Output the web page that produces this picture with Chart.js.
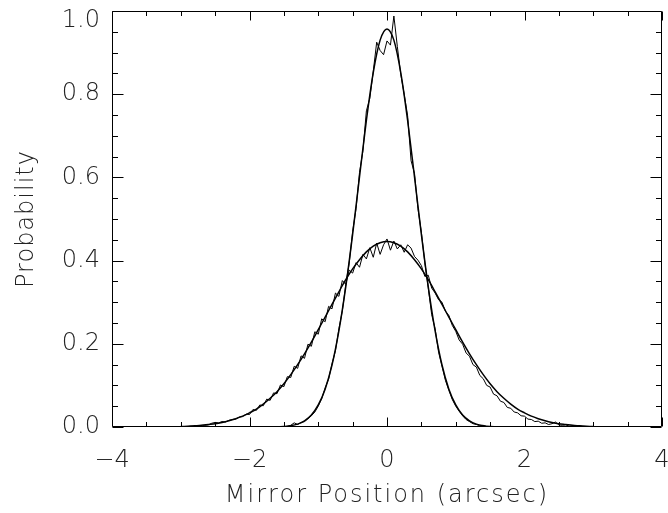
<!DOCTYPE html>
<html>
<head>
<meta charset="utf-8">
<script src="https://cdn.jsdelivr.net/npm/chart.js@4"></script>
<style>
  html, body { margin: 0; padding: 0; background: #fff; }
</style>
</head>
<body>
<canvas id="profileChart" width="668" height="513"></canvas>
<script>
// Histogram bins (arcsec): first bin centre and bin width
const binStart = -3.0;
const binWidth = 0.05;

// Measured distribution, wide profile (-3.00 .. 3.00)
const wideHist = [
    0.000, 0.000, 0.001, 0.002, 0.001, 0.003, 0.002, 0.004, 0.005, 0.009,
    0.011, 0.010, 0.013, 0.012, 0.016, 0.018, 0.019, 0.024, 0.025, 0.031,
    0.030, 0.042, 0.040, 0.053, 0.051, 0.067, 0.064, 0.082, 0.080, 0.101,
    0.097, 0.121, 0.119, 0.146, 0.141, 0.171, 0.165, 0.199, 0.194, 0.229,
    0.223, 0.260, 0.253, 0.290, 0.284, 0.322, 0.314, 0.352, 0.343, 0.377,
    0.370, 0.395, 0.384, 0.415, 0.404, 0.431, 0.408, 0.442, 0.415, 0.438,
    0.452, 0.425, 0.447, 0.428, 0.438, 0.420, 0.438, 0.430, 0.410, 0.401,
    0.388, 0.362, 0.365, 0.334, 0.322, 0.306, 0.300, 0.278, 0.268, 0.244,
    0.230, 0.209, 0.199, 0.178, 0.170, 0.150, 0.144, 0.124, 0.116, 0.100,
    0.096, 0.079, 0.075, 0.062, 0.059, 0.047, 0.045, 0.036, 0.034, 0.027,
    0.026, 0.019, 0.018, 0.013, 0.014, 0.009, 0.010, 0.006, 0.008, 0.012,
    0.005, 0.004, 0.005, 0.002, 0.003, 0.002, 0.002, 0.001, 0.001, 0.000,
    0.000
];

// Measured distribution, narrow profile (-3.00 .. 3.00)
const narrowHist = [
    0, 0, 0, 0, 0, 0, 0, 0, 0, 0,
    0, 0, 0, 0, 0, 0, 0, 0, 0, 0,
    0, 0, 0, 0, 0, 0, 0, 0, 0, 0.001,
    0.000, 0.002, 0.004, 0.010, 0.006, 0.011, 0.013, 0.020, 0.027, 0.036,
    0.050, 0.068, 0.094, 0.115, 0.152, 0.183, 0.236, 0.279, 0.342, 0.394,
    0.470, 0.525, 0.612, 0.664, 0.760, 0.790, 0.855, 0.925, 0.905, 0.895,
    0.928, 0.918, 0.988, 0.915, 0.848, 0.800, 0.748, 0.640, 0.610, 0.525,
    0.468, 0.395, 0.335, 0.270, 0.236, 0.180, 0.146, 0.112, 0.088, 0.066,
    0.050, 0.038, 0.027, 0.018, 0.013, 0.008, 0.006, 0.003, 0.004, 0.001,
    0.001, 0, 0, 0, 0, 0, 0, 0, 0, 0,
    0, 0, 0, 0, 0, 0, 0, 0, 0, 0,
    0, 0, 0, 0, 0, 0, 0, 0, 0, 0,
    0
];

// Gaussian fits, sampled every 0.1 arcsec from -3.0 to 3.0
const fitStart = -3.0;
const fitStep = 0.1;
const wideFit = [
    0.001, 0.002, 0.003, 0.004, 0.006, 0.008, 0.011, 0.015, 0.020, 0.026,
    0.034, 0.043, 0.055, 0.069, 0.085, 0.104, 0.126, 0.150, 0.176, 0.204,
    0.234, 0.264, 0.295, 0.325, 0.354, 0.380, 0.402, 0.421, 0.435, 0.443,
    0.446,
    0.443, 0.435, 0.421, 0.402, 0.380, 0.354, 0.325, 0.295, 0.264, 0.234,
    0.204, 0.176, 0.150, 0.126, 0.104, 0.085, 0.069, 0.055, 0.043, 0.034,
    0.026, 0.020, 0.015, 0.011, 0.008, 0.006, 0.004, 0.003, 0.002, 0.001
];
const narrowFit = [
    0, 0, 0, 0, 0, 0, 0, 0, 0, 0,
    0, 0, 0, 0, 0, 0.001, 0.003, 0.007, 0.015, 0.029,
    0.053, 0.091, 0.149, 0.231, 0.337, 0.463, 0.601, 0.737, 0.852, 0.930,
    0.957,
    0.930, 0.852, 0.737, 0.601, 0.463, 0.337, 0.231, 0.149, 0.091, 0.053,
    0.029, 0.015, 0.007, 0.003, 0.001, 0, 0, 0, 0, 0,
    0, 0, 0, 0, 0, 0, 0, 0, 0, 0
];

const xTicks = [-4, -2, 0, 2, 4];
const yTicks = [0.0, 0.2, 0.4, 0.6, 0.8, 1.0];
const xTitle = 'Mirror Position (arcsec)';
const yTitle = 'Probability';

const textColor = '#222';
const fontFamily = "'DejaVu Sans', sans-serif";
const fontWeight = '200';

function toPoints(start, step, values) {
    return values.map((v, i) => ({ x: start + i * step, y: v }));
}

// IDL-style box with inward major/minor ticks on all four sides
const frameTicks = {
    id: 'frameTicks',
    afterDraw(chart) {
        const { ctx, chartArea: a, scales: { x, y } } = chart;
        ctx.save();
        ctx.strokeStyle = '#000';
        ctx.lineWidth = 1;
        ctx.beginPath();
        const L = Math.round(a.left) + 0.5, R = Math.round(a.right) - 0.5;
        const T = Math.round(a.top) + 0.5, B = Math.round(a.bottom) - 0.5;
        ctx.rect(L, T, R - L, B - T);
        for (let i = 0; i <= 16; i++) {
            const px = Math.round(x.getPixelForValue(x.min + i * 0.5)) + 0.5;
            const len = i % 4 === 0 ? 9 : 4.5;
            ctx.moveTo(px, B); ctx.lineTo(px, B - len);
            ctx.moveTo(px, T); ctx.lineTo(px, T + len);
        }
        for (let i = 0; i <= 20; i++) {
            const py = Math.round(y.getPixelForValue(y.min + i * 0.05)) + 0.5;
            const len = i % 4 === 0 ? 11 : 5.5;
            ctx.moveTo(L, py); ctx.lineTo(L + len, py);
            ctx.moveTo(R, py); ctx.lineTo(R - len, py);
        }
        ctx.stroke();
        ctx.restore();
    }
};

// axis titles, spaced out like the IDL vector font
const axisTitles = {
    id: 'axisTitles',
    afterDraw(chart) {
        const { ctx, chartArea: a } = chart;
        ctx.save();
        ctx.fillStyle = textColor;
        ctx.font = fontWeight + ' 24px ' + fontFamily;
        ctx.textAlign = 'center';
        ctx.textBaseline = 'alphabetic';
        ctx.letterSpacing = '2px';
        ctx.fillText(xTitle, (a.left + a.right) / 2, 502);
        ctx.letterSpacing = '1px';
        ctx.translate(33, 219);
        ctx.rotate(-Math.PI / 2);
        ctx.fillText(yTitle, 0, 0);
        ctx.restore();
    }
};

const fitStyle = { borderColor: '#000', borderWidth: 1.5, pointRadius: 0, cubicInterpolationMode: 'monotone' };
const histStyle = { borderColor: '#000', borderWidth: 1, pointRadius: 0, tension: 0 };

new Chart(document.getElementById('profileChart'), {
    type: 'line',
    data: {
        datasets: [
            Object.assign({ label: 'Wide fit', data: toPoints(fitStart, fitStep, wideFit) }, fitStyle),
            Object.assign({ label: 'Narrow fit', data: toPoints(fitStart, fitStep, narrowFit) }, fitStyle),
            Object.assign({ label: 'Wide', data: toPoints(binStart, binWidth, wideHist) }, histStyle),
            Object.assign({ label: 'Narrow', data: toPoints(binStart, binWidth, narrowHist) }, histStyle)
        ]
    },
    options: {
        responsive: false,
        devicePixelRatio: 1,
        animation: false,
        layout: { padding: { top: 11, right: 6, left: 0, bottom: 0 } },
        plugins: {
            legend: { display: false },
            tooltip: { enabled: false }
        },
        scales: {
            x: {
                type: 'linear',
                min: -4,
                max: 4,
                afterBuildTicks: s => { s.ticks = xTicks.map(v => ({ value: v })); },
                afterFit: s => { s.height = 86; s.paddingLeft = 0; s.paddingRight = 0; },
                grid: { display: false, drawTicks: false },
                border: { display: false },
                ticks: {
                    padding: 19,
                    color: textColor,
                    font: { family: fontFamily, size: 24, weight: fontWeight },
                    maxRotation: 0,
                    callback: v => (v < 0 ? '\u2212' + Math.abs(v) : String(v))
                }
            },
            y: {
                type: 'linear',
                min: 0,
                max: 1.0,
                afterBuildTicks: s => { s.ticks = yTicks.map(v => ({ value: v })); },
                afterFit: s => { s.width = 112; s.paddingTop = 0; s.paddingBottom = 0; },
                grid: { display: false, drawTicks: false },
                border: { display: false },
                ticks: {
                    padding: 12,
                    color: textColor,
                    font: { family: fontFamily, size: 24, weight: fontWeight, lineHeight: 0.8 },
                    // the top label sits just under the frame, as in the original
                    callback: v => (v === yTicks[yTicks.length - 1] ? ['', v.toFixed(1)] : v.toFixed(1))
                }
            }
        }
    },
    plugins: [frameTicks, axisTitles]
});
</script>
</body>
</html>
